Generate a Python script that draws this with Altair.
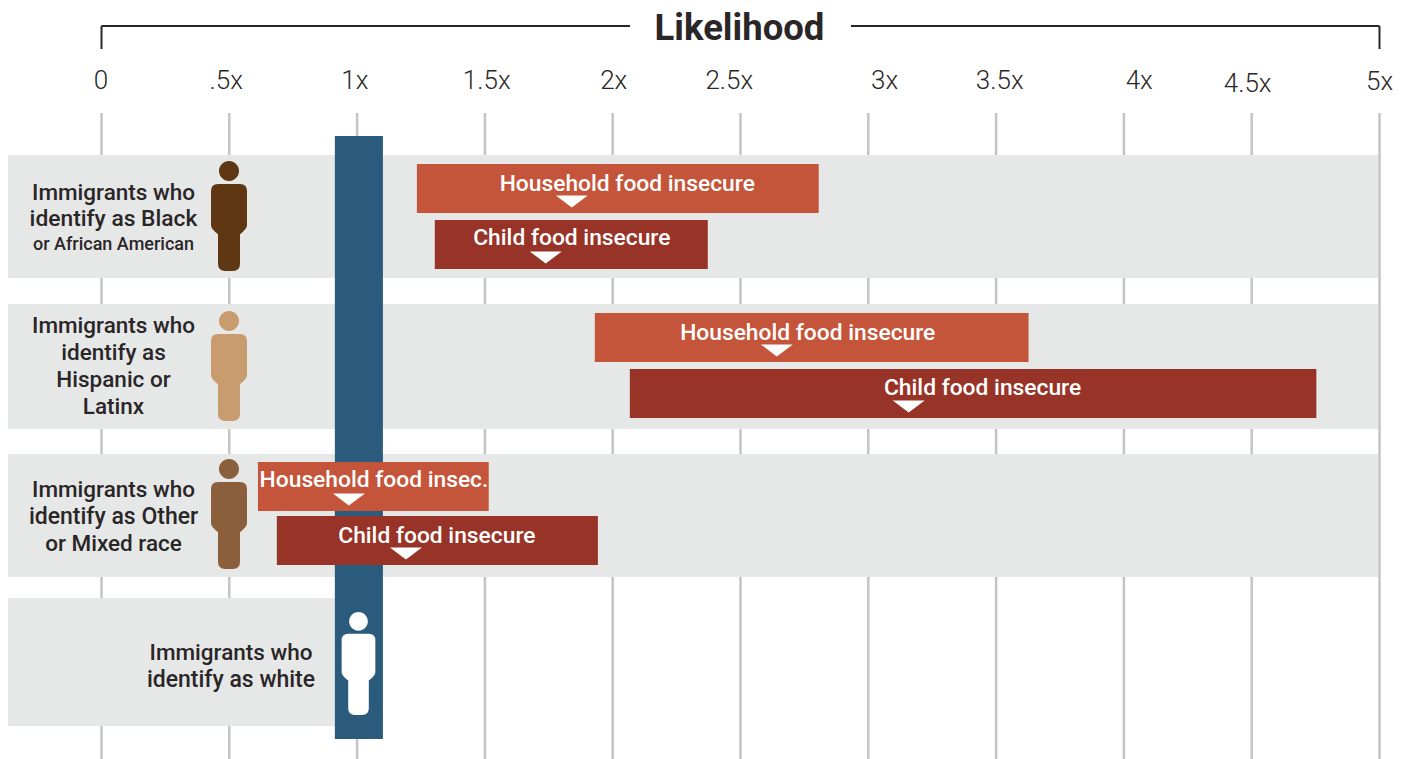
import altair as alt
import pandas as pd

FONT = "Roboto"
INK = "#2a2627"

# ---- values -----------------------------------------------------------
tick_values = [0, .5, 1, 1.5, 2, 2.5, 3, 3.5, 4, 4.5, 5]
tick_labels = ["0", ".5x", "1x", "1.5x", "2x", "2.5x", "3x", "3.5x", "4x", "4.5x", "5x"]
tick_label_pos = [-0.002, 0.488, 0.991, 1.507, 2.004, 2.456, 3.064, 3.514, 4.060, 4.484, 5.0]
tick_label_row = [-0.906] * 9 + [-0.886, -0.900]

household_lo = [1.234, 1.930, 0.612]
household_hi = [2.806, 3.627, 1.515]
household_est = [1.840, 2.642, 0.968]
household_text = ["Household food insecure", "Household food insecure", "Household food insec."]
household_text_pos = [2.057, 2.763, 1.066]

child_lo = [1.304, 2.067, 0.686]
child_hi = [2.372, 4.753, 1.942]
child_est = [1.738, 3.158, 1.191]
child_text = ["Child food insecure", "Child food insecure", "Child food insecure"]
child_text_pos = [1.840, 3.447, 1.312]

ref_lo, ref_hi = 0.913, 1.101

# Layout expressed in row units (one row pitch = 149.5 px, row 0 at its centre)
def r(p):
    return (p - 216.5) / 149.5

def xv(p):
    return (p - 101.5) / 255.6

X_SCALE = alt.Scale(domain=[xv(8), xv(1403)], range=[0, 1395], nice=False, zero=False, clamp=False)
Y_SCALE = alt.Scale(domain=[r(8), r(759)], range=[0, 751], nice=False, zero=False)
X = lambda f: alt.X(f, type="quantitative", scale=X_SCALE, axis=None)
Y = lambda f: alt.Y(f, type="quantitative", scale=Y_SCALE, axis=None)

bands = pd.DataFrame({
    "x": [xv(8)] * 4,
    "x2": [xv(1378), xv(1378), xv(1378), ref_lo],
    "y": [r(155), r(304), r(454), r(598)],
    "y2": [r(278), r(429), r(577), r(726)],
})
ticks = pd.DataFrame({"v": tick_values, "y": [r(113)] * 11, "y2": [r(759)] * 11})
tick_text = pd.DataFrame({"x": tick_label_pos, "y": tick_label_row, "t": tick_labels})

bar_y_h = [r(188.5), r(337.5), r(486.5)]
bar_y_c = [r(244.5), r(393.5), r(540.5)]
half = 24.5 / 149.5
def bars(lo, hi, ys):
    return pd.DataFrame({"x": lo, "x2": hi, "y": [v - half for v in ys], "y2": [v + half for v in ys]})

tri_off = 13 / 149.5
labels_h = pd.DataFrame({"x": household_text_pos, "y": [r(183.5), r(332.5), r(480)], "t": household_text})
labels_c = pd.DataFrame({"x": child_text_pos, "y": [r(237.5), r(387.5), r(535.5)], "t": child_text})
tris = pd.DataFrame({"x": household_est + child_est,
                     "y": [v + tri_off for v in bar_y_h] + [v + tri_off for v in bar_y_c]})

ref = pd.DataFrame({"x": [ref_lo], "x2": [ref_hi], "y": [r(136)], "y2": [r(739)]})

row_lines = pd.DataFrame([
    ("Immigrants who", 113.5, 192.5, 22.5), ("identify as Black", 113.5, 219, 22.8), ("or African American", 113.5, 244.5, 18),
    ("Immigrants who", 113.5, 326, 22.5), ("identify as", 113.5, 353, 22.5), ("Hispanic or", 113.5, 380, 22.5), ("Latinx", 113.5, 406.5, 22.5),
    ("Immigrants who", 113.5, 490, 22.5), ("identify as Other", 113.5, 517, 23), ("or Mixed race", 113.5, 544, 22.5),
    ("Immigrants who", 231, 653, 22.5), ("identify as white", 231, 680, 23),
], columns=["t", "px", "py", "s"])
row_lines["x"] = row_lines.px.map(xv)
row_lines["y"] = row_lines.py.map(r)

PERSON = ("M0,-1 A.182,.182 0 1 1 0,-.636 A.182,.182 0 1 1 0,-1Z "
          "M-.2,-.58 L.2,-.58 Q.327,-.58 .327,-.45 L.327,.17 Q.327,.24 .2,.33 L.2,.87 Q.2,1 .07,1 "
          "L-.07,1 Q-.2,1 -.2,.87 L-.2,.33 Q-.327,.24 -.327,.17 L-.327,-.45 Q-.327,-.58 -.2,-.58Z")
TRI = "M-1,-.38 L1,-.38 L0,.38Z"

def person(px, py, color, size):
    d = pd.DataFrame({"x": [xv(px)], "y": [r(py)]})
    return alt.Chart(d).mark_point(shape=PERSON, filled=True, color=color, size=size, opacity=1, strokeWidth=0).encode(x=X("x"), y=Y("y"))

def rect(df, color):
    return alt.Chart(df).mark_rect(color=color).encode(x=X("x"), x2="x2", y=Y("y"), y2="y2")

def text(df, **kw):
    return alt.Chart(df).mark_text(font=FONT, align="center", baseline="middle", **kw).encode(x=X("x"), y=Y("y"), text="t:N")

bracket = pd.DataFrame({
    "x": [0, xv(851), 0, 5], "x2": [xv(630), 5, 0, 5],
    "y": [r(26), r(26), r(26), r(26)], "y2": [r(26), r(26), r(49), r(49)],
})

layers = [
    alt.Chart(bracket).mark_rule(color=INK, strokeWidth=2).encode(x=X("x"), x2="x2", y=Y("y"), y2="y2"),
    text(pd.DataFrame({"x": [xv(739.5)], "y": [r(29)], "t": ["Likelihood"]}), fontSize=36.5, fontWeight="bold", color=INK),
    text(tick_text, fontSize=26, fontWeight=300, color=INK),
    alt.Chart(ticks).mark_rule(color="#c4c4c4", strokeWidth=2.5).encode(x=X("v"), y=Y("y"), y2="y2"),
    rect(bands, "#e6e8e7"),
    rect(ref, "#2a5b7c"),
    rect(bars(household_lo, household_hi, bar_y_h), "#c5553a"),
    rect(bars(child_lo, child_hi, bar_y_c), "#983427"),
    text(labels_h, fontSize=22.8, fontWeight=500, color="white"),
    text(labels_c, fontSize=22.8, fontWeight=500, color="white"),
    alt.Chart(tris).mark_point(shape=TRI, filled=True, color="white", size=1024, opacity=1, strokeWidth=0).encode(x=X("x"), y=Y("y")),
    person(229, 216, "#5f3813", 12100),
    person(229, 366, "#c89c6e", 12100),
    person(229, 514, "#8b5f3b", 12100),
    person(358.5, 663.5, "#ffffff", 10609),
    alt.Chart(row_lines).mark_text(font=FONT, align="center", baseline="middle", fontWeight=500, color=INK).encode(
        x=X("x"), y=Y("y"), text="t:N", size=alt.Size("s:Q", scale=None, legend=None)),
]

chart = alt.layer(*layers).properties(
    width=1395, height=751, padding=0, autosize=alt.AutoSizeParams(type="none")
).configure_view(stroke=None)

chart.save("out.html", embed_options={"renderer": "svg", "actions": False})
